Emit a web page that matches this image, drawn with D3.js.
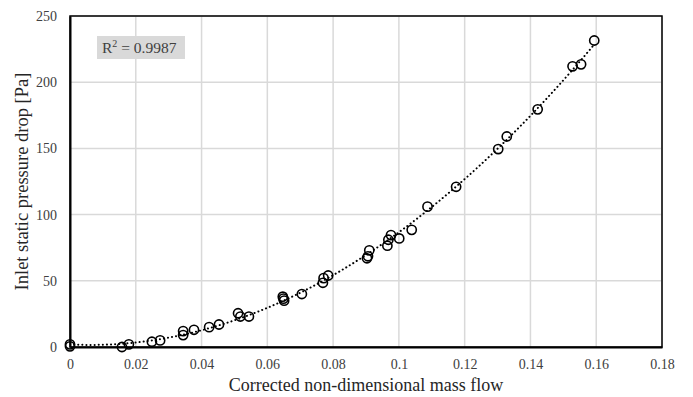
<!DOCTYPE html>
<html>
<head>
<meta charset="utf-8">
<script src="https://cdn.jsdelivr.net/npm/d3@7"></script>
<style>
  body { margin: 0; background: #fff; }
  svg { display: block; font-family: "Liberation Serif", "DejaVu Serif", serif; }
  .tick text { fill: #404040; }
</style>
</head>
<body>
<div id="container"><svg></svg></div>
<script>
// measured points (mass flow, pressure drop)
const massFlow = [0, 0, 0.0158, 0.0179, 0.0249, 0.0274, 0.0344, 0.0344, 0.0377, 0.0423,
  0.0453, 0.0511, 0.0518, 0.0544, 0.0647, 0.0649, 0.0651, 0.0705, 0.0769, 0.0771,
  0.0785, 0.0903, 0.0906, 0.0910, 0.0965, 0.0968, 0.0976, 0.1001, 0.1039, 0.1087,
  0.1174, 0.1302, 0.1328, 0.1422, 0.1528, 0.1554, 0.1594];
const pressureDrop = [0.5, 2, 0, 2, 4, 5, 9, 12, 13, 15,
  17, 25.5, 23, 23, 38, 36.5, 35, 40, 48.5, 52,
  54, 67, 68.5, 73, 76.5, 81, 84.5, 82, 88.5, 106,
  121, 149.5, 159, 179.5, 212, 213.5, 231.5];
const xTicks = [0, 0.02, 0.04, 0.06, 0.08, 0.1, 0.12, 0.14, 0.16, 0.18];
const yTicks = [0, 50, 100, 150, 200, 250];
const r2Label = '0.9987';

const width = 693, height = 397;
const margin = { left: 70, top: 16, right: 31, bottom: 50 };

const svg = d3.select('svg').attr('width', width).attr('height', height);

let x = d3.scaleLinear().domain([0, 0.18]).range([margin.left, width - margin.right]);
let y = d3.scaleLinear().domain([0, 250]).range([height - margin.bottom, margin.top]);

// grid
svg.append('g')
  .selectAll('line')
  .data(xTicks.slice(1))
  .enter().append('line')
  .attr('x1', d => x(d)).attr('x2', d => x(d))
  .attr('y1', y(0)).attr('y2', y(250))
  .attr('stroke', '#d9d9d9').attr('stroke-width', 1.5);
svg.append('g')
  .selectAll('line')
  .data(yTicks.slice(1))
  .enter().append('line')
  .attr('x1', x(0)).attr('x2', x(0.18))
  .attr('y1', d => y(d)).attr('y2', d => y(d))
  .attr('stroke', '#d9d9d9').attr('stroke-width', 1.5);

// frame
svg.append('rect')
  .attr('x', x(0)).attr('y', y(250))
  .attr('width', x(0.18) - x(0)).attr('height', y(0) - y(250))
  .attr('fill', 'none').attr('stroke', '#000').attr('stroke-width', 1.5);

// axes
let axisX = d3.axisBottom(x).tickValues(xTicks).tickSize(0).tickPadding(12)
  .tickFormat(d => d3.format('~g')(d));
svg.append('g')
  .attr('transform', `translate(0, ${y(0)})`)
  .call(axisX)
  .attr('font-family', null)
  .attr('font-size', '14px')
  .call(g => g.select('.domain').attr('stroke', '#000').attr('stroke-width', 2));

let axisY = d3.axisLeft(y).tickValues(yTicks).tickSize(0).tickPadding(13);
svg.append('g')
  .attr('transform', `translate(${x(0)}, 0)`)
  .call(axisY)
  .attr('font-family', null)
  .attr('font-size', '14px')
  .call(g => g.select('.domain').attr('stroke', '#000').attr('stroke-width', 2));

// axis titles
svg.append('text')
  .attr('x', (x(0) + x(0.18)) / 2).attr('y', 391)
  .attr('text-anchor', 'middle')
  .attr('font-size', '18px').attr('fill', '#262626')
  .text('Corrected non-dimensional mass flow');
svg.append('text')
  .attr('transform', `translate(28, ${(y(0) + y(250)) / 2}) rotate(-90)`)
  .attr('text-anchor', 'middle')
  .attr('font-size', '18.5px').attr('fill', '#262626')
  .text('Inlet static pressure drop [Pa]');

// quadratic trendline (least squares on the points)
function polyfit2(xs, ys) {
  let S = Array(5).fill(0), T = Array(3).fill(0);
  xs.forEach((xv, i) => {
    for (let k = 0; k < 5; k++) S[k] += Math.pow(xv, k);
    for (let k = 0; k < 3; k++) T[k] += Math.pow(xv, k) * ys[i];
  });
  let A = [[S[0], S[1], S[2], T[0]], [S[1], S[2], S[3], T[1]], [S[2], S[3], S[4], T[2]]];
  for (let i = 0; i < 3; i++) {
    for (let j = i + 1; j < 3; j++) {
      let f = A[j][i] / A[i][i];
      for (let k = i; k < 4; k++) A[j][k] -= f * A[i][k];
    }
  }
  let c = [0, 0, 0];
  for (let i = 2; i >= 0; i--) {
    let s = A[i][3];
    for (let k = i + 1; k < 3; k++) s -= A[i][k] * c[k];
    c[i] = s / A[i][i];
  }
  return c;
}
let coef = polyfit2(massFlow, pressureDrop);
let xMax = d3.max(massFlow);
let fitX = d3.range(0, 101).map(i => xMax * i / 100);
svg.append('clipPath').attr('id', 'clip')
  .append('rect')
  .attr('x', x(0)).attr('y', y(250) - 5)
  .attr('width', x(0.18) - x(0)).attr('height', y(0) - y(250) + 5);
svg.append('path')
  .datum(fitX)
  .attr('clip-path', 'url(#clip)')
  .attr('d', d3.line()
    .x(d => x(d))
    .y(d => y(Math.max(0, coef[0] + coef[1] * d + coef[2] * d * d))))
  .attr('fill', 'none').attr('stroke', '#000')
  .attr('stroke-width', 2).attr('stroke-dasharray', '0.1 4').attr('stroke-linecap', 'round');

// points
svg.append('g')
  .selectAll('circle')
  .data(massFlow)
  .enter().append('circle')
  .attr('cx', d => x(d))
  .attr('cy', (d, i) => y(pressureDrop[i]))
  .attr('r', 4.6)
  .attr('fill', 'none').attr('stroke', '#000').attr('stroke-width', 1.6);

// R² label
let lbl = svg.append('g').attr('transform', 'translate(97, 36)');
lbl.append('rect').attr('width', 88).attr('height', 23).attr('fill', '#d9d9d9');
let t = lbl.append('text').attr('x', 5).attr('y', 17).attr('font-size', '15.5px').attr('fill', '#404040');
t.append('tspan').text('R');
t.append('tspan').attr('dy', -6).attr('font-size', '10px').text('2');
t.append('tspan').attr('dy', 6).text(' = ' + r2Label);
</script>
</body>
</html>
